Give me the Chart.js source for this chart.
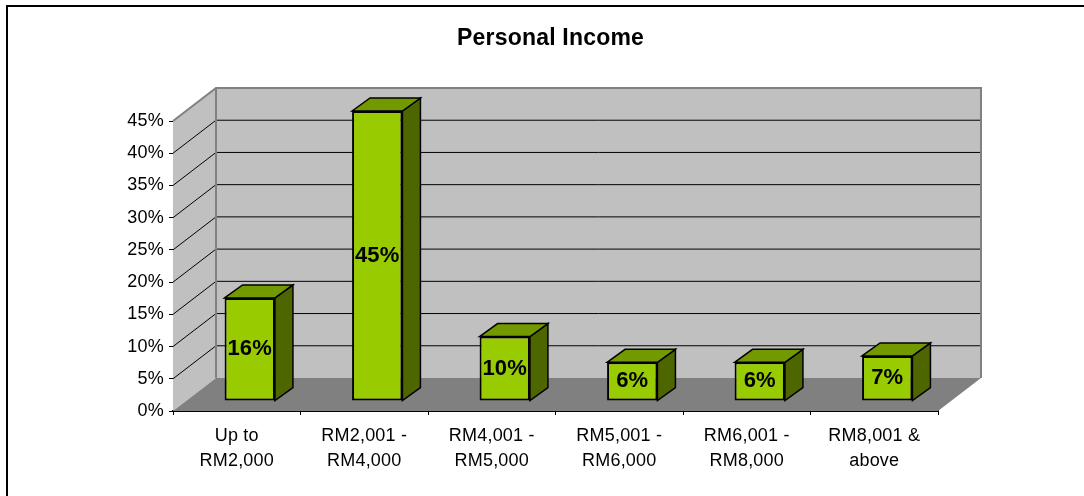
<!DOCTYPE html>
<html>
<head>
<meta charset="utf-8">
<style>
  html, body { margin: 0; padding: 0; background: #fff; overflow: hidden; }
  #wrap { width: 1084px; height: 496px; }
</style>
<script src="https://cdn.jsdelivr.net/npm/chart.js@4"></script>
</head>
<body>
<div id="wrap"><canvas id="income-chart" width="1084" height="496"></canvas></div>
<script>
const categories = [["Up to", "RM2,000"], ["RM2,001 -", "RM4,000"], ["RM4,001 -", "RM5,000"],
  ["RM5,001 -", "RM6,000"], ["RM6,001 -", "RM8,000"], ["RM8,001 &", "above"]];
const values = [16, 45, 10, 6, 6, 7];
const chartTitle = "Personal Income";

const FONT = '"Liberation Sans", Arial, sans-serif';

// how far the back wall sits behind the axes, and the bars on the floor
const WALL_DX = 43, WALL_DY = -33;
const BAR_DX = 13, BAR_DY = -10;
const SIDE_DX = 18, SIDE_DY = -13;

function poly(ctx, pts, fill, stroke, lw) {
  ctx.beginPath();
  pts.forEach((p, i) => i ? ctx.lineTo(p[0], p[1]) : ctx.moveTo(p[0], p[1]));
  ctx.closePath();
  if (fill) { ctx.fillStyle = fill; ctx.fill(); }
  if (stroke) { ctx.strokeStyle = stroke; ctx.lineWidth = lw; ctx.stroke(); }
}

const box3d = {
  id: "box3d",
  beforeDraw(chart) {
    // the reference text is a bit wider than Liberation Sans
    chart.ctx.letterSpacing = "0.2px";
  },
  // outer frame, walls, floor and wall grid lines
  beforeDatasetsDraw(chart) {
    const { ctx, chartArea: a, scales } = chart;
    const y = scales.y;
    ctx.save();
    ctx.strokeStyle = "#000";
    ctx.lineWidth = 2;
    ctx.beginPath();
    ctx.moveTo(7, 500);
    ctx.lineTo(7, 6);
    ctx.lineTo(1090, 6);
    ctx.stroke();

    const bx = WALL_DX, by = WALL_DY;
    poly(ctx, [[a.left, a.top], [a.left + bx, a.top + by], [a.left + bx, a.bottom + by], [a.left, a.bottom]], "#c0c0c0");
    poly(ctx, [[a.left + bx, a.top + by], [a.right + bx, a.top + by], [a.right + bx, a.bottom + by], [a.left + bx, a.bottom + by]], "#c0c0c0");
    poly(ctx, [[a.left, a.bottom], [a.left + bx, a.bottom + by], [a.right + bx, a.bottom + by], [a.right, a.bottom]], "#808080");

    y.ticks.forEach(t => {
      const py = y.getPixelForValue(t.value);
      if (t.value === 0 || t.value === y.max) return;
      ctx.strokeStyle = "#000";
      ctx.lineWidth = 1;
      ctx.beginPath();
      ctx.moveTo(a.left, py);
      ctx.lineTo(a.left + bx, py + by);
      ctx.lineTo(a.right + bx, py + by);
      ctx.stroke();
    });

    // wall outline
    ctx.strokeStyle = "#808080";
    ctx.lineWidth = 2;
    ctx.beginPath();
    ctx.moveTo(a.left, a.top);
    ctx.lineTo(a.left + bx, a.top + by);
    ctx.lineTo(a.right + bx, a.top + by);
    ctx.lineTo(a.right + bx, a.bottom + by);
    ctx.moveTo(a.left + bx, a.top + by);
    ctx.lineTo(a.left + bx, a.bottom + by);
    ctx.stroke();
    ctx.restore();

    // the bars stand a little way back from the axis line
    ctx.save();
    chart.getDatasetMeta(0).data.forEach(bar => {
      const l = bar.x - bar.width / 2 + BAR_DX, r = bar.x + bar.width / 2 + BAR_DX;
      const t = bar.y + BAR_DY, b = bar.base + BAR_DY;
      poly(ctx, [[r, t], [r + SIDE_DX, t + SIDE_DY], [r + SIDE_DX, b + SIDE_DY], [r, b]], "#4d6600", "#000", 1.5);
      poly(ctx, [[l, t], [l + SIDE_DX, t + SIDE_DY], [r + SIDE_DX, t + SIDE_DY], [r, t]], "#739900", "#000", 1.5);
    });
    ctx.restore();
    ctx.save();
    ctx.translate(BAR_DX, BAR_DY);
  },
  afterDatasetsDraw(chart) {
    const { ctx } = chart;
    ctx.restore();
    ctx.save();
    ctx.font = "bold 22px " + FONT;
    ctx.fillStyle = "#000";
    ctx.textAlign = "center";
    ctx.textBaseline = "middle";
    chart.getDatasetMeta(0).data.forEach((bar, i) => {
      ctx.fillText(values[i] + "%", bar.x + BAR_DX, (bar.y + bar.base) / 2 + BAR_DY);
    });
    ctx.restore();
  }
};

new Chart(document.getElementById("income-chart"), {
  type: "bar",
  data: {
    labels: categories,
    datasets: [{
      data: values,
      backgroundColor: "#99cc00",
      borderColor: "#000",
      borderWidth: 2,
      borderSkipped: false,
      barPercentage: 0.395,
      categoryPercentage: 1
    }]
  },
  options: {
    responsive: false,
    animation: false,
    layout: { padding: { left: 17, right: 0, top: 0, bottom: 0 } },
    plugins: {
      legend: { display: false },
      tooltip: { enabled: false },
      title: {
        display: true,
        text: chartTitle,
        color: "#000",
        font: { family: FONT, size: 23, weight: "bold" },
        padding: { top: 25, bottom: 68.4 }
      }
    },
    scales: {
      x: {
        afterFit(scale) { scale.height = 85; },
        grid: { drawOnChartArea: false, drawTicks: true, tickLength: 4, color: "#000", offset: true },
        border: { color: "#000", width: 2 },
        ticks: { color: "#000", font: { family: FONT, size: 18, lineHeight: 1.42 }, maxRotation: 0, autoSkip: false, padding: 8 }
      },
      y: {
        min: 0,
        max: 45,
        afterFit(scale) { scale.width = 156; },
        grid: { drawOnChartArea: false, tickLength: 4, color: "#000" },
        border: { color: "#000", width: 1 },
        ticks: { stepSize: 5, color: "#000", font: { family: FONT, size: 18 }, padding: 5, callback: v => v + "%" }
      },
      // empty axis, only holds the blank strip right of the plot
      spacer: {
        position: "right",
        afterFit(scale) { scale.width = 146; },
        grid: { display: false },
        border: { display: false },
        ticks: { display: false }
      }
    }
  },
  plugins: [box3d]
});
</script>
</body>
</html>
